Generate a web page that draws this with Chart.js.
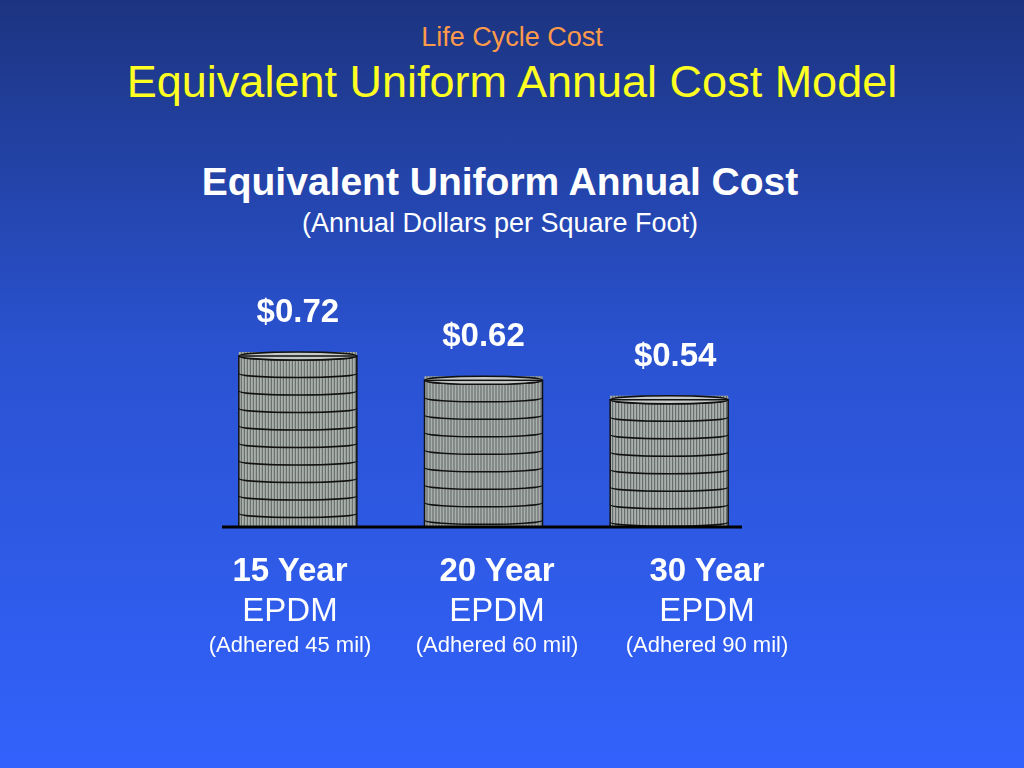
<!DOCTYPE html>
<html><head><meta charset="utf-8">
<script src="https://cdn.jsdelivr.net/npm/chart.js@4/dist/chart.umd.min.js"></script>
<style>
body{margin:0;width:1024px;height:768px;overflow:hidden;font-family:"Liberation Sans",Arial,sans-serif;
background:linear-gradient(#1c3480,#2a52d0 45%,#3262fc);position:relative}
.t{position:absolute;left:0;width:1024px;text-align:center;white-space:nowrap}
.c{position:absolute;width:240px;text-align:center;color:#fff;white-space:nowrap}
canvas{position:absolute;left:0;top:0}
</style></head><body>
<div class="t" style="top:22px;color:#ff9a4a;font-size:27px">Life Cycle Cost</div>
<div class="t" style="top:56px;color:#ffff22;font-size:45px">Equivalent Uniform Annual Cost Model</div>
<div class="t" style="top:160px;left:-12px;color:#fff;font-size:39px;font-weight:bold">Equivalent Uniform Annual Cost</div>
<div class="t" style="top:208px;left:-12px;color:#fff;font-size:27px">(Annual Dollars per Square Foot)</div>
<canvas id="c" width="1024" height="768"></canvas>
<div id="labs"></div>
<script>
const categories=["15 Year","20 Year","30 Year"];
const subLabels=["EPDM","EPDM","EPDM"];
const notes=["(Adhered 45 mil)","(Adhered 60 mil)","(Adhered 90 mil)"];
const costs=[0.72,0.62,0.54];
const valueLabels=["$0.72","$0.62","$0.54"];
const labX=[290,497,707];

let html="";
categories.forEach((c,i)=>{
  html+=`<div class="c" style="left:${labX[i]-120}px;top:551px;font-size:33px;font-weight:bold">${c}</div>`+
  `<div class="c" style="left:${labX[i]-120}px;top:591px;font-size:33px">${subLabels[i]}</div>`+
  `<div class="c" style="left:${labX[i]-120}px;top:632px;font-size:22px">${notes[i]}</div>`;
});
document.getElementById("labs").innerHTML=html;

const coins={id:"coins",afterDatasetsDraw(ch){
  const ctx=ch.ctx,a=ch.chartArea;
  ch.getDatasetMeta(0).data.forEach((b,i)=>{
    const w=118,x0=b.x-w/2,top=b.y,bot=b.base,ry=4;
    ctx.save();
    ctx.fillStyle="#a9b0ad";ctx.fillRect(x0,top,w,bot-top);
    ctx.strokeStyle="#5d6360";ctx.lineWidth=1;
    for(let x=x0+2;x<x0+w;x+=3){ctx.beginPath();ctx.moveTo(x+.5,top);ctx.lineTo(x+.5,bot);ctx.stroke();}
    ctx.strokeStyle="#111";ctx.lineWidth=1.5;
    for(let y=top+ry;y<bot-4;y+=17.5){ctx.beginPath();ctx.ellipse(b.x,y,w/2,ry,0,0,Math.PI);ctx.stroke();}
    ctx.beginPath();ctx.ellipse(b.x,top+ry,w/2,ry,0,0,2*Math.PI);ctx.fillStyle="#c5cac8";ctx.fill();ctx.stroke();
    ctx.strokeRect(x0,top+ry,w,bot-top-ry);
    ctx.fillStyle="#fff";ctx.font="bold 33px 'Liberation Sans'";ctx.textAlign="center";
    ctx.fillText(valueLabels[i],b.x+(i==2?6:0),top-30);
    ctx.restore();
  });
  ctx.save();ctx.strokeStyle="#000";ctx.lineWidth=3;ctx.beginPath();
  ctx.moveTo(222,a.bottom);ctx.lineTo(742,a.bottom);ctx.stroke();ctx.restore();
}};
new Chart(document.getElementById("c"),{
  type:"bar",
  data:{labels:categories,datasets:[{data:costs,backgroundColor:"rgba(0,0,0,0)",barThickness:118}]},
  options:{responsive:false,animation:false,
    layout:{padding:{left:205,right:262,top:300,bottom:241}},
    plugins:{legend:{display:false},tooltip:{enabled:false}},
    scales:{x:{display:false},y:{display:false,min:0,max:0.934}}},
  plugins:[coins]
});
</script></body></html>
